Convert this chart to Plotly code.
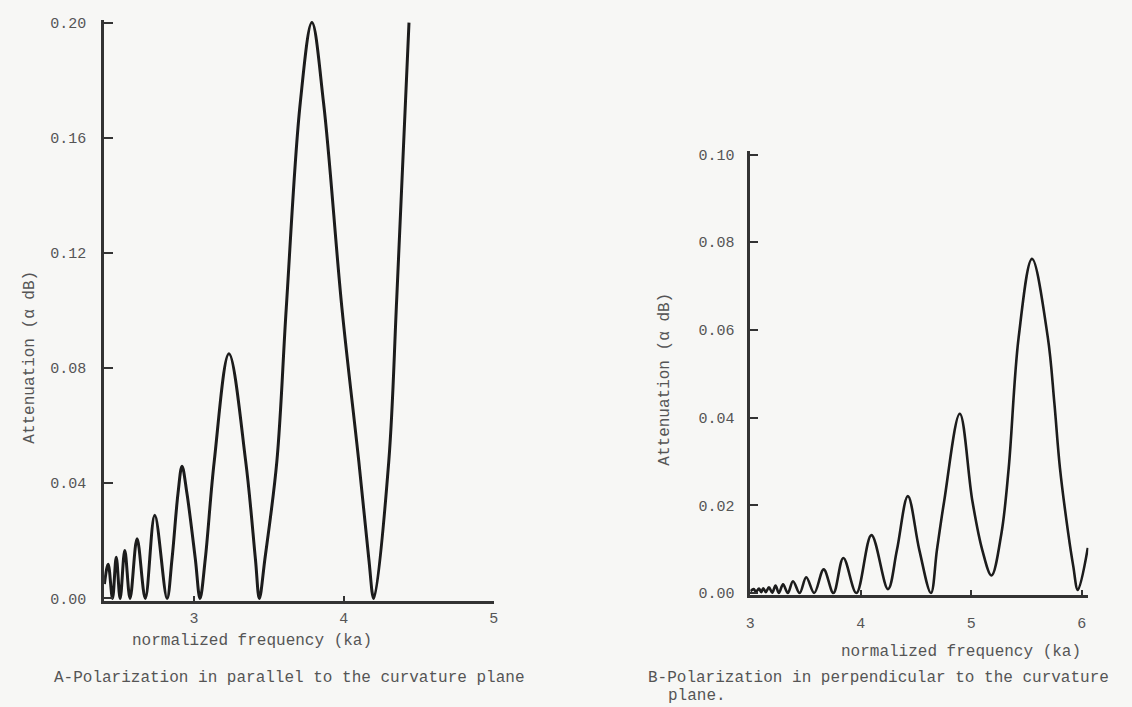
import plotly.graph_objects as go

# ---- Data ----
# Panel A: polarization parallel to the curvature plane
ka_parallel = [2.402, 2.427, 2.456, 2.481, 2.507, 2.538, 2.573, 2.620, 2.675,
               2.738, 2.820, 2.853, 2.893, 2.920, 2.953, 3.009,
               3.040, 3.075, 3.135, 3.233, 3.345, 3.410, 3.436,
               3.473, 3.553, 3.616, 3.709, 3.787, 3.865, 3.987,
               4.100, 4.167, 4.200, 4.300, 4.353, 4.435]
att_parallel = [0.005, 0.0119, 0.0, 0.0143, 0.0, 0.0166, 0.0, 0.0207, 0.0,
                0.0289, 0.0, 0.0136, 0.0364, 0.0459, 0.0364, 0.0136,
                0.0, 0.0136, 0.0476, 0.085, 0.0476, 0.0136, 0.0,
                0.0136, 0.0476, 0.101, 0.172, 0.200, 0.172, 0.101,
                0.0476, 0.0136, 0.0, 0.0476, 0.104, 0.200]

# Panel B: polarization perpendicular to the curvature plane
ka_perp = [3.000, 3.030, 3.050, 3.078, 3.098, 3.117, 3.140, 3.168, 3.198, 3.228,
           3.258, 3.296, 3.339, 3.386, 3.446, 3.506, 3.578, 3.664, 3.752, 3.842,
           3.960, 4.096, 4.246, 4.327, 4.426, 4.530, 4.635, 4.689, 4.755,
           4.896, 5.010, 5.100, 5.183, 5.273, 5.339, 5.429,
           5.550, 5.693, 5.752, 5.803, 5.878, 5.923, 5.965, 6.055]
att_perp = [0.0004, 0.0009, 0.0003, 0.0010, 0.0002, 0.0011, 0.0002, 0.0013, 0.0001, 0.0017,
            0.0, 0.0020, 0.0, 0.0027, 0.0, 0.0036, 0.0, 0.0054, 0.0, 0.0080,
            0.0, 0.0132, 0.0009, 0.0098, 0.0221, 0.0098, 0.0, 0.0098, 0.0210,
            0.0409, 0.0210, 0.0098, 0.0040, 0.0136, 0.0285, 0.0583,
            0.0762, 0.0583, 0.0434, 0.0285, 0.0136, 0.0062, 0.0007, 0.0103]

yticks_a = [0.0, 0.04, 0.08, 0.12, 0.16, 0.20]
yticks_b = [0.0, 0.02, 0.04, 0.06, 0.08, 0.10]
xticks_a = [3, 4, 5]
xticks_b = [3, 4, 5, 6]

W, H = 1132, 707
FONT = "Liberation Mono, DejaVu Sans Mono, monospace"
TXT = "#555555"
INK = "#1c1c1c"
AX = "#333333"
BG = "#f7f7f5"

def px(x):
    return x / W

def py(y):
    return 1 - y / H

fig = go.Figure()
fig.add_trace(go.Scatter(x=ka_parallel, y=att_parallel, mode="lines",
                         line=dict(color=INK, width=3, shape="spline", smoothing=1.0),
                         xaxis="x", yaxis="y", showlegend=False, hoverinfo="skip"))
fig.add_trace(go.Scatter(x=ka_perp, y=att_perp, mode="lines",
                         line=dict(color=INK, width=2.6, shape="spline", smoothing=1.0),
                         xaxis="x2", yaxis="y2", showlegend=False, hoverinfo="skip"))

axis_common = dict(showgrid=False, zeroline=False, showline=True, linecolor=AX,
                   linewidth=2.5, ticks="inside", tickcolor=AX, tickwidth=2,
                   tickfont=dict(family=FONT, size=15, color=TXT))

fig.update_layout(
    width=W, height=H, autosize=False,
    margin=dict(l=0, r=0, t=0, b=0),
    paper_bgcolor=BG, plot_bgcolor=BG,
    xaxis=dict(domain=[px(100), px(493)], range=[2.4, 5.0], tickvals=xticks_a,
               ticktext=[str(v) for v in xticks_a], ticklen=5,
               ticklabelstandoff=2, anchor="y", **axis_common),
    yaxis=dict(domain=[py(607), py(16)], range=[-0.0008, 0.2010], tickvals=yticks_a,
               tickformat=".2f", ticklen=9, ticklabelstandoff=12, anchor="x",
               **axis_common),
    xaxis2=dict(domain=[px(752), px(1093)], range=[3.0, 6.06], tickvals=xticks_b,
                ticktext=[str(v) for v in xticks_b], ticklen=5,
                ticklabelstandoff=12, anchor="y2", **axis_common),
    yaxis2=dict(domain=[py(601), py(150)], range=[-0.0004, 0.1007], tickvals=yticks_b,
                tickformat=".2f", ticklen=8, ticklabelstandoff=10, anchor="x2",
                **axis_common),
)

def note(text, x, y, xanchor="center", angle=0, size=16):
    fig.add_annotation(text=text, x=px(x), y=py(y), xref="paper", yref="paper",
                       xanchor=xanchor, yanchor="middle", showarrow=False,
                       textangle=angle, font=dict(family=FONT, size=size, color=TXT))

note("Attenuation (α dB)", 25, 359, angle=-90)
note("Attenuation (α dB)", 665, 382, angle=-90)
note("normalized frequency (ka)", 249, 648)
note("normalized frequency (ka)", 965, 659)
note("A-Polarization in parallel to the curvature plane", 47, 686, xanchor="left")
note("B-Polarization in perpendicular to the curvature", 647, 686, xanchor="left")
note("plane.", 667, 704, xanchor="left")

fig.write_html("out.html")
